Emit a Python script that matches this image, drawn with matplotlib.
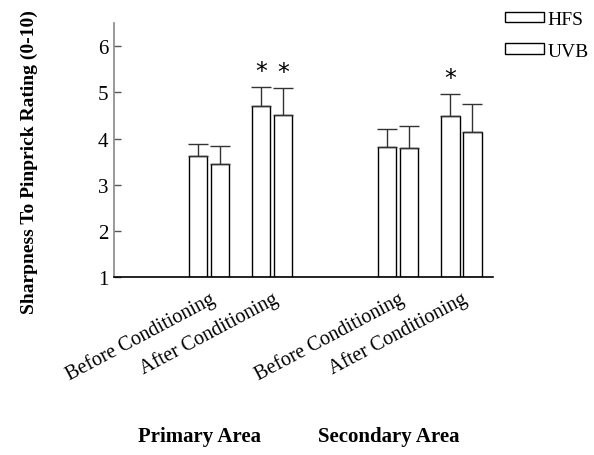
import matplotlib
matplotlib.use("Agg")
import matplotlib.pyplot as plt
from matplotlib.patches import Patch
import numpy as np

plt.rcParams['font.family'] = ['Liberation Serif', 'DejaVu Serif']

categories = ["Before Conditioning", "After Conditioning", "Before Conditioning", "After Conditioning"]
areas = ["Primary Area", "Secondary Area"]
series_names = ["HFS", "UVB"]
hfs_mean = [3.63, 4.71, 3.81, 4.49]
hfs_err = [0.26, 0.41, 0.39, 0.48]
uvb_mean = [3.44, 4.51, 3.79, 4.15]
uvb_err = [0.39, 0.59, 0.49, 0.59]
hfs_sig = [False, True, False, True]
uvb_sig = [False, True, False, False]
yticks = [1, 2, 3, 4, 5, 6]

fig = plt.figure(figsize=(5.94, 4.56), dpi=100)
ax = fig.add_axes([0.192, 0.390, 0.638, 0.557])

pos = np.array([0, 1, 3, 4])
w = 0.29
off = 0.175
ecol = '#333333'
for means, errs, sig, sgn in [(hfs_mean, hfs_err, hfs_sig, -1), (uvb_mean, uvb_err, uvb_sig, 1)]:
    x = pos + sgn * off
    ax.bar(x, np.array(means) - 1, bottom=1, width=w, color='white', edgecolor='black', linewidth=1.0)
    ax.errorbar(x, means, yerr=[np.zeros(len(errs)), errs], fmt='none', ecolor=ecol,
                elinewidth=1.0, capsize=7, capthick=1.0)
    for xi, m, e, s in zip(x, means, errs, sig):
        if s:
            ax.annotate('*', (xi, m + e), xytext=(0, 3), textcoords='offset points',
                        ha='center', va='bottom', fontsize=17, family='DejaVu Sans')

ax.set_xlim(-1.5, 4.5)
ax.set_ylim(1, 6.5)
ax.set_yticks(yticks)
ax.set_yticklabels([str(t) for t in yticks], fontsize=15)
ax.tick_params(axis='y', direction='in', length=5, width=1, color='#555555', pad=4)
ax.set_xticks(pos)
ax.set_xticklabels(categories, rotation=28, ha='right', rotation_mode='anchor', fontsize=14.5)
ax.tick_params(axis='x', length=0, pad=8)
for s in ['top', 'right']:
    ax.spines[s].set_visible(False)
ax.spines['left'].set_color('#888888')
ax.spines['left'].set_linewidth(1.2)
ax.spines['bottom'].set_color('black')
ax.spines['bottom'].set_linewidth(1.2)

fig.text(0.05, 1 - 162 / 456, "Sharpness To Pinprick Rating (0-10)", rotation=90, ha='center', va='center',
         fontsize=14, fontweight='bold')
fig.text(200 / 594, 1 - 437 / 456, areas[0], ha='center', va='center', fontsize=15, fontweight='bold')
fig.text(389 / 594, 1 - 437 / 456, areas[1], ha='center', va='center', fontsize=15, fontweight='bold')

handles = [Patch(facecolor='white', edgecolor='black', linewidth=1.0, label=n) for n in series_names]
fig.legend(handles=handles, loc='upper left', bbox_to_anchor=(495 / 594, 0.995), frameon=False,
           fontsize=14, handlelength=2.0, handleheight=0.45, handletextpad=0.2, labelspacing=0.75,
           borderaxespad=0.1)

fig.savefig("out.png", dpi=100)
